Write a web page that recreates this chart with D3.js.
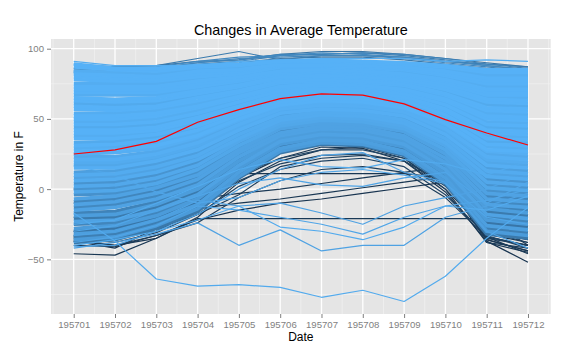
<!DOCTYPE html>
<html><head><meta charset="utf-8">
<script src="https://cdn.jsdelivr.net/npm/d3@7"></script>
<style>body{margin:0;background:#fff}svg{display:block}text{font-family:"Liberation Sans",Arial,sans-serif}</style>
</head><body><svg id="c" width="570" height="356"></svg>
<script>
const months = [1,2,3,4,5,6,7,8,9,10,11,12];
const monthLabels = ["195701","195702","195703","195704","195705","195706","195707","195708","195709","195710","195711","195712"];
const yTicks = [-50,0,50,100];
const avgTemp = [25,28,34,47.6,56.6,64.5,67.8,66.9,60.7,49.5,40,31.4];

// dense band of stations (estimated)
const bandTemps = [
[-38,-36,-28,-16,8,26,32,31,24,4,-32,-35],
[-36,-34,-26,-14,9,27,33,32,25,5,-30,-33],
[-34,-32,-24,-13,11,28,34,33,26,7,-28,-31],
[-32,-30,-22,-11,12,29,35,34,27,8,-26,-29],
[-30,-28,-20,-9,13,30,36,35,28,10,-24,-27],
[-28,-26,-19,-7,15,32,37,36,30,11,-22,-25],
[-25,-24,-17,-6,16,33,38,37,31,12,-20,-23],
[-23,-22,-15,-4,17,34,39,38,32,14,-18,-21],
[-21,-20,-13,-2,19,35,40,39,33,15,-16,-19],
[-19,-18,-11,0,20,36,41,40,34,17,-14,-17],
[-17,-16,-9,2,22,37,42,41,35,18,-13,-15],
[-15,-13,-7,3,23,38,43,42,36,19,-11,-13],
[-13,-11,-5,5,24,39,44,43,37,21,-9,-11],
[-11,-9,-3,7,26,40,45,44,38,22,-7,-9],
[-9,-7,-1,9,27,41,46,45,39,24,-5,-7],
[-7,-5,1,10,28,43,47,46,41,25,-3,-5],
[-4,-3,2,12,30,44,48,47,42,26,-1,-3],
[-2,-1,4,14,31,45,49,48,43,28,1,-1],
[0,1,6,16,32,46,50,49,44,29,3,1],
[2,3,8,17,34,47,51,50,45,31,5,3],
[4,5,10,19,35,48,52,51,46,32,7,5],
[6,7,12,21,36,49,53,52,47,33,9,7],
[8,9,14,23,38,50,54,53,48,35,11,9],
[10,11,16,24,39,51,55,54,49,36,13,11],
[12,13,18,26,40,52,56,55,50,38,15,13],
[15,15,20,28,42,54,57,56,52,39,17,15],
[17,17,21,30,43,55,58,57,53,40,19,17],
[19,19,23,31,44,56,59,58,54,42,21,19],
[21,21,25,33,46,57,60,59,55,43,23,21],
[23,23,27,35,47,58,61,60,56,45,25,23],
[25,26,29,37,49,59,62,61,57,46,27,25],
[27,28,31,38,50,60,63,62,58,47,28,27],
[29,30,33,40,51,61,64,63,59,49,30,29],
[31,32,35,42,53,62,65,64,60,50,32,31],
[33,34,37,44,54,63,66,65,61,52,34,33],
[36,36,39,45,55,65,67,66,63,53,36,35],
[38,38,40,47,57,66,68,67,64,54,38,37],
[40,40,42,49,58,67,69,68,65,56,40,39],
[42,42,44,51,59,68,70,69,66,57,42,41],
[44,44,46,52,61,69,71,70,67,59,44,43],
[46,46,48,54,62,70,72,71,68,60,46,45],
[48,48,50,56,63,71,73,72,69,61,48,47],
[50,50,52,58,65,72,74,73,70,63,50,49],
[52,52,54,59,66,73,75,74,71,64,52,51],
[54,54,56,61,67,74,76,75,72,66,54,53],
[57,56,58,63,69,76,77,76,74,67,56,55],
[59,58,59,65,70,77,78,77,75,68,58,57],
[61,60,61,66,71,78,79,78,76,70,60,59],
[63,62,63,68,73,79,80,79,77,71,62,61],
[65,64,65,70,74,80,81,80,78,73,64,63],
[67,67,67,72,76,81,82,81,79,74,66,65],
[69,69,69,73,77,82,83,82,80,75,67,67],
[71,71,71,75,78,83,84,83,81,77,69,69],
[73,73,73,77,80,84,85,84,82,78,71,71],
[75,75,75,79,81,85,86,85,83,80,73,73],
[78,77,77,80,82,87,87,86,85,81,75,75],
[80,79,78,82,84,88,88,87,86,82,77,77],
[82,81,80,84,85,89,89,88,87,84,79,79],
[84,83,82,86,86,90,90,89,88,85,81,81],
[87,85,84,87,88,91,91,90,89,87,83,83],
[89,86,86,88,89,91,92,91,90,88,85,85]
];
const bandShade = [0.6,0.85,0.65,0.88,0.58,0.85,0.7,0.9,0.62,0.86,0.68,0.9,0.72,0.9,0.7,0.9,0.78,0.93,0.8,0.94,0.8,
0.96,0.9,0.96,0.88,0.98,0.93,0.96,0.98,0.94,0.98,
1,0.97,1,0.95,1,0.97,1,1,0.95,1,0.97,1,1,0.97,1,1,0.95,1,1,0.97,1,1,1,0.97,1,1,1,0.97,1,1];

// individually visible stations
const sparseTemps = [
[89,87,88,93,98,92,95,95,94,91,89,87],
[86,87,88,91,92,96,98,98,96,93,90,87],
[85,86,86,89,91,95,96,97,95,92,88,85],
[84,85,86,90,93,94,95,95,93,90,87,84],
[83,84,85,88,90,93,94,94,92,89,86,83],
[84,86,87,91,94,95,97,96,94,91,88,85],
[82,85,86,90,92,96,96,97,96,93,89,86],
[-46,-47,-35,-20,5,20,28,30,22,0,-38,-45],
[-37,-42,-28,-12,8,22,30,29,20,-2,-37,-52],
[-36,-40,-35,-21,-21,-21,-21,-21,-21,-21,-21,-40],
[-37,-40,-33,-24,-6,6,14,16,12,-6,-34,-40],
[-35,-38,-31,-18,2,14,20,22,16,-4,-33,-42],
[-33,-35,-30,-15,6,18,24,25,20,0,-30,-38],
[-30,-33,-26,-12,10,22,28,28,22,2,-28,-36],
[-34,-35,-30,-14,-10,-7,-3,1,5,9,-34,-40],
[-32,-33,-26,-7,-3,0,4,8,12,16,-30,-36],
[-30,-30,-20,-5,11,11,11,11,11,8,-32,-38],
[-40,-41,-33,-22,-15,-10,-7,-3,1,5,-36,-44],
[-34,-36,-28,-18,-4,16,22,24,20,4,-35,-40],
[-20,-18,-10,2,18,30,36,35,28,6,-36,-44],
[-10,-8,0,10,25,36,40,40,32,10,-38,-42],
[0,2,8,18,30,40,44,43,36,14,-34,-46],
[-17,-37,-64,-69,-68,-70,-77,-72,-80,-62,-35,-13],
[-33,-30,-22,-8,-12,-10,-17,-25,-12,-6,0,12],
[-38,-34,-26,-12,-15,-20,-25,-32,-20,-12,-8,0],
[-40,-36,-30,-22,-12,-27,-30,-36,-27,-12,-15,-5],
[-42,-38,-32,-24,-40,-29,-44,-40,-40,-20,-12,-3],
[-30,-26,-15,-5,4,8,3,2,8,12,-10,5],
[-25,-22,-10,2,14,21,16,15,21,18,10,20],
[17,10,-2,-10,-6,6,12,14,10,4,-20,-25],
[-41,-40,-30,-18,0,14,24,26,12,5,-30,-42],
[91,88,88,88,91,92,93,93,93,91,92,91]
];
const sparseShade = [0.62,0.58,0.66,0.7,0.6,0.72,0.68,0.1,0.08,0.12,0.15,0.2,0.18,0.22,0.1,0.12,0.1,0.08,0.15,0.1,0.15,0.12,
0.95,0.9,0.92,0.95,0.9,0.92,0.95,0.92,0.9,0.97];

const svg = d3.select("#c");
const pL = 51, pR = 550.7, pT = 39, pB = 314;

const x = d3.scaleLinear().domain([0.45, 12.55]).range([pL, pR]);
const allVals = bandTemps.concat(sparseTemps, [avgTemp]).flat();
const ext = d3.extent(allVals);
const pad = (ext[1] - ext[0]) * 0.05;
const y = d3.scaleLinear().domain([ext[0] - pad, ext[1] + pad]).range([pB, pT]);
const color = d3.scaleLinear().domain([0, 1]).range(["#132B43", "#56B1F7"]).interpolate(d3.interpolateLab);

// panel
svg.append("rect").attr("x", pL).attr("y", pT).attr("width", pR - pL).attr("height", pB - pT).attr("fill", "#E5E5E5");
const g = svg.append("g");
const yMinor = [-75, -25, 25, 75];
const xMinor = [0.5,1.5,2.5,3.5,4.5,5.5,6.5,7.5,8.5,9.5,10.5,11.5,12.5];
g.selectAll(".ymin").data(yMinor).enter().append("line")
  .attr("x1", pL).attr("x2", pR).attr("y1", d => y(d)).attr("y2", d => y(d))
  .attr("stroke", "#F2F2F2").attr("stroke-width", 0.7);
g.selectAll(".xmin").data(xMinor).enter().append("line")
  .attr("y1", pT).attr("y2", pB).attr("x1", d => x(d)).attr("x2", d => x(d))
  .attr("stroke", "#F2F2F2").attr("stroke-width", 0.7);
g.selectAll(".ymaj").data(yTicks).enter().append("line")
  .attr("x1", pL).attr("x2", pR).attr("y1", d => y(d)).attr("y2", d => y(d))
  .attr("stroke", "#FFFFFF").attr("stroke-width", 1.3);
g.selectAll(".xmaj").data(months).enter().append("line")
  .attr("y1", pT).attr("y2", pB).attr("x1", d => x(d)).attr("x2", d => x(d))
  .attr("stroke", "#FFFFFF").attr("stroke-width", 1.3);

// series
const series = [];
bandTemps.forEach((v, i) => series.push({ v, s: bandShade[i], w: 3.6 }));
sparseTemps.forEach((v, i) => series.push({ v, s: sparseShade[i], w: 1.2 }));
series.sort((a, b) => a.s - b.s);
const line = d3.line().x((d, i) => x(months[i])).y(d => y(d));
svg.append("clipPath").attr("id", "pc").append("rect")
  .attr("x", pL).attr("y", pT).attr("width", pR - pL).attr("height", pB - pT);
const lg = svg.append("g").attr("clip-path", "url(#pc)");
lg.selectAll("path.st").data(series).enter().append("path")
  .attr("d", d => line(d.v)).attr("fill", "none")
  .attr("stroke", d => color(d.s)).attr("stroke-width", d => d.w)
  .attr("stroke-linejoin", "round");
lg.append("path").attr("d", line(avgTemp)).attr("fill", "none")
  .attr("stroke", "#FF0000").attr("stroke-width", 1.2);

// axes
const ax = svg.append("g").attr("transform", `translate(0,${pB})`)
  .call(d3.axisBottom(x).tickValues(months).tickFormat((d, i) => monthLabels[i]).tickSize(4).tickPadding(3));
const ay = svg.append("g").attr("transform", `translate(${pL},0)`)
  .call(d3.axisLeft(y).tickValues(yTicks).tickSize(4).tickPadding(3));
[ax, ay].forEach(a => {
  a.select(".domain").remove();
  a.selectAll(".tick line").attr("stroke", "#7F7F7F").attr("stroke-width", 1);
  a.selectAll(".tick text").attr("fill", "#7F7F7F").style("font-size", "9.6px")
    .style("font-family", '"Liberation Sans", Arial, sans-serif');
});

svg.append("text").attr("x", (pL + pR) / 2).attr("y", 35).attr("text-anchor", "middle")
  .style("font-size", "14.4px").attr("fill", "#000").text("Changes in Average Temperature");
svg.append("text").attr("x", (pL + pR) / 2).attr("y", 341).attr("text-anchor", "middle")
  .style("font-size", "12px").attr("fill", "#000").text("Date");
svg.append("text").attr("transform", `translate(23,${(pT + pB) / 2}) rotate(-90)`).attr("text-anchor", "middle")
  .style("font-size", "12px").attr("fill", "#000").text("Temperature in F");
</script></body></html>
